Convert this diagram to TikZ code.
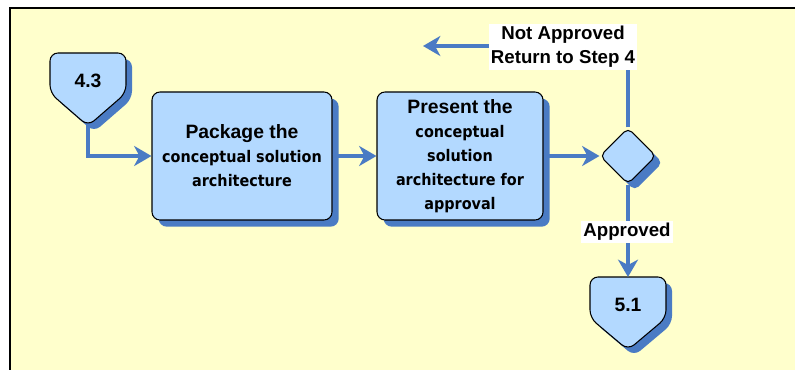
\documentclass[tikz,border=0pt]{standalone}
\usepackage{fontspec}
\setmainfont{Liberation Sans}
\newfontfamily\boxfont{DejaVu Sans Condensed}
\usetikzlibrary{arrows.meta,shapes.geometric,shadows}
\definecolor{bgyellow}{RGB}{255,255,204}
\definecolor{boxblue}{RGB}{179,217,255}
\definecolor{shadowblue}{RGB}{74,123,196}
\tikzset{
  x=0.75pt, y=-0.75pt,
  shd/.style={drop shadow={shadow xshift=5pt, shadow yshift=-5pt, fill=shadowblue, opacity=1}},
  procbox/.style={draw=black, line width=0.8pt, fill=boxblue, rounded corners=6pt,
    minimum height=96pt, inner sep=0pt, align=center, shd,
    font=\fontsize{12}{18}\selectfont},
  decis/.style={diamond, draw=black, line width=0.8pt, fill=boxblue, rounded corners=4pt,
    minimum width=42pt, minimum height=42pt, inner sep=0pt, shd},
  offpg/.style={draw=black, line width=0.8pt, fill=boxblue, rounded corners=6pt},
  offshd/.style={fill=shadowblue, rounded corners=6pt},
  conn/.style={line width=3.6pt, draw=shadowblue, -{Stealth[length=13pt,width=15pt,inset=4pt]}},
  lbl/.style={fill=white, inner sep=1.5pt, align=center, font=\fontsize{14}{18}\selectfont\bfseries},
  big/.style={font=\fontsize{14.5}{18}\selectfont\bfseries},
}
\newcommand{\hd}[1]{{\fontsize{14.5}{18}\selectfont\bfseries #1}}
\newcommand{\bd}[1]{{\boxfont\fontsize{12}{18}\selectfont\bfseries #1}}
\begin{document}
\begin{tikzpicture}
\useasboundingbox (0,0) rectangle (795,370);
\fill[white] (0,0) rectangle (795,370);
\fill[bgyellow] (10,8) rectangle (795,370);
\draw[black, line width=1.5pt] (10,370) -- (10,8) -- (795,8);

% off-page connector 4.3
\fill[offshd] (56,59) -- (132,59) -- (132,99) -- (94,132) -- (56,99) -- cycle;
\draw[offpg] (50,53) -- (126,53) -- (126,93) -- (88,126) -- (50,93) -- cycle;
\node[big] (n43) at (88,81) {4.3};
\coordinate (p43) at (88,124);

% off-page connector 5.1
\fill[offshd] (596,283) -- (672,283) -- (672,324) -- (634,356) -- (596,324) -- cycle;
\draw[offpg] (590,277) -- (666,277) -- (666,318) -- (628,350) -- (590,318) -- cycle;
\node[big] (n51) at (628,305) {5.1};
\coordinate (p51) at (628,277);

% process boxes
\node[procbox, minimum width=135pt] (b1) at (242,156)
  {\hd{Package the}\\\bd{conceptual solution}\\\bd{architecture}};
\node[procbox, minimum width=124.5pt] (b2) at (460,156)
  {\hd{Present the}\\\bd{conceptual}\\\bd{solution}\\\bd{architecture for}\\\bd{approval}};

% decision
\node[decis] (d) at (628,156) {};
\coordinate (ret) at (423,46);

% connectors
\draw[conn] (p43) |- (b1.west);
\draw[conn] (b1.east) -- (b2.west);
\draw[conn] (b2.east) -- (d.west);
\draw[conn] (d.north) |- (ret);
\draw[conn] (d.south) -- (p51);

% labels
\node[lbl] (na) at (563,47) {Not Approved\\Return to Step 4};
\node[lbl] (ap) at (627,232) {Approved};
\end{tikzpicture}
\end{document}
